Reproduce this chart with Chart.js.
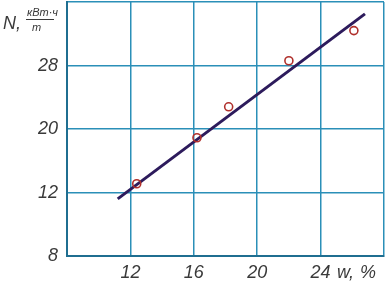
<!DOCTYPE html>
<html>
<head>
<meta charset="utf-8">
<script src="https://cdn.jsdelivr.net/npm/chart.js@4"></script>
<style>
  html, body { margin: 0; padding: 0; background: #fff; }
  canvas { display: block; }
</style>
</head>
<body>
<canvas id="chart" width="386" height="286"></canvas>
<script>
// moisture w, % and specific power N, kWh/t
const xTicks = [12, 16, 20, 24];
const nLabels = ['8', '12', '20', '28'];
const nLevels = [8, 12, 20, 28, 36]; // N value at each horizontal grid line
const moisture = [12.4, 16.2, 18.2, 22.0, 26.1];
const power = [13.1, 18.9, 22.8, 28.6, 32.4];
const fitW = [11.2, 26.8];
const fitN = [11.6, 34.5];

const FONT = "'Liberation Sans', Arial, sans-serif";
const GRID = '#2b8fb8';
const TEXT = '#3a3a3a';

// the N axis is not uniform: 8-12 then 8 units per division
function toAxis(n) {
  for (let i = 0; i < nLevels.length - 1; i++) {
    if (n <= nLevels[i + 1] || i === nLevels.length - 2) {
      return i + (n - nLevels[i]) / (nLevels[i + 1] - nLevels[i]);
    }
  }
}

const points = moisture.map((w, i) => ({ x: w, y: toAxis(power[i]) }));
const fit = fitW.map((w, i) => ({ x: w, y: toAxis(fitN[i]) }));

const labelsPlugin = {
  id: 'labels',
  afterDraw(chart) {
    const ctx = chart.ctx;
    ctx.save();
    ctx.fillStyle = TEXT;
    ctx.strokeStyle = TEXT;
    ctx.textBaseline = 'alphabetic';
    ctx.textAlign = 'left';
    ctx.font = 'italic 18px ' + FONT;
    ctx.fillText('N,', 3, 29);
    ctx.font = 'italic 11px ' + FONT;
    ctx.fillText('кВт·ч', 27, 16);
    ctx.fillText('т', 32, 31);
    ctx.lineWidth = 1;
    ctx.beginPath();
    ctx.moveTo(26, 19.5);
    ctx.lineTo(54, 19.5);
    ctx.stroke();
    ctx.font = 'italic 18px ' + FONT;
    ctx.fillText('w,', 337, 278);
    ctx.fillText('%', 360, 278);
    ctx.restore();
  }
};

new Chart(document.getElementById('chart').getContext('2d'), {
  type: 'scatter',
  data: {
    datasets: [
      {
        label: 'опыт',
        data: points,
        order: 0,
        pointStyle: 'circle',
        pointRadius: 4,
        pointBorderWidth: 1.6,
        pointBorderColor: '#b0302c',
        pointBackgroundColor: 'rgba(255,255,255,0)',
        showLine: false
      },
      {
        label: 'аппроксимация',
        data: fit,
        order: 1,
        showLine: true,
        borderColor: '#2d1b5c',
        borderWidth: 3,
        pointRadius: 0
      }
    ]
  },
  options: {
    responsive: false,
    animation: false,
    layout: { autoPadding: false, padding: { top: 2, right: 2, left: 0, bottom: 0 } },
    plugins: {
      legend: { display: false },
      tooltip: { enabled: false }
    },
    scales: {
      x: {
        type: 'linear',
        min: 8,
        max: 28,
        afterFit: s => { s.height = 30; s.paddingLeft = 0; s.paddingRight = 0; },
        afterBuildTicks: s => { s.ticks = [8].concat(xTicks, [28]).map(v => ({ value: v })); },
        ticks: {
          padding: 6,
          color: TEXT,
          font: { family: FONT, size: 18, style: 'italic' },
          callback: v => xTicks.includes(v) ? String(v) : ''
        },
        grid: { color: GRID, lineWidth: 1.5, drawTicks: false },
        border: { color: '#1f6e90', width: 2 }
      },
      y: {
        type: 'linear',
        min: 0,
        max: 4,
        afterFit: s => { s.width = 67; s.paddingTop = 0; s.paddingBottom = 0; },
        ticks: {
          stepSize: 1,
          padding: 9,
          color: TEXT,
          font: { family: FONT, size: 18, style: 'italic' },
          callback: v => nLabels[v] || ''
        },
        grid: { color: GRID, lineWidth: 1.5, drawTicks: false },
        border: { color: '#1f6e90', width: 2 }
      }
    }
  },
  plugins: [labelsPlugin]
});
</script>
</body>
</html>
